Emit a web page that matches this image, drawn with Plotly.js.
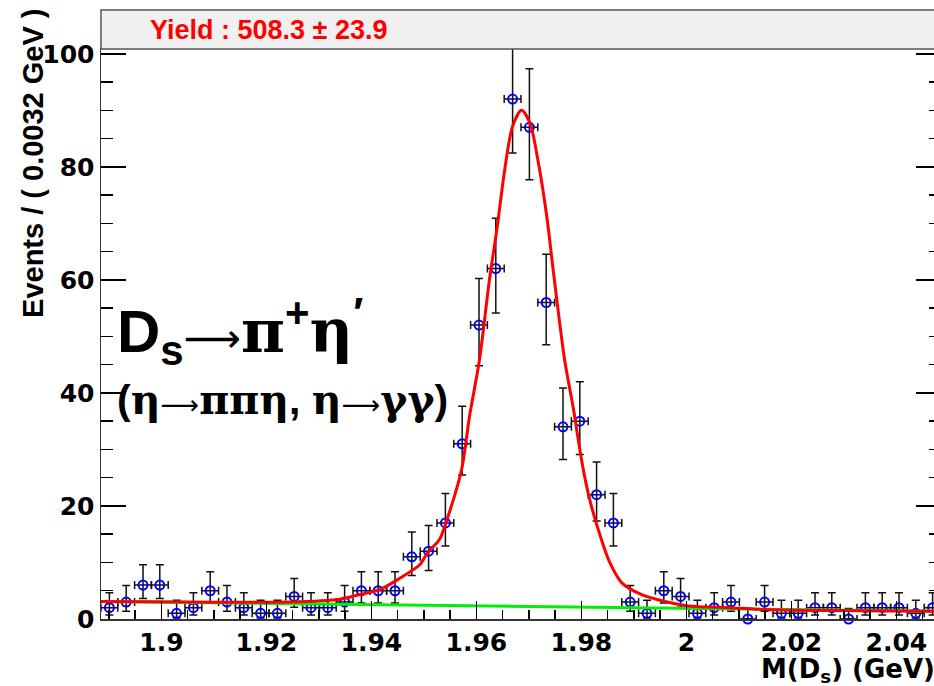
<!DOCTYPE html>
<html>
<head>
<meta charset="utf-8">
<script src="https://cdn.plot.ly/plotly-3.0.1.min.js"></script>
<style>
html,body{margin:0;padding:0;background:#fff;overflow:hidden;}
#wrap{width:934px;height:686px;overflow:hidden;position:relative;}
#plot{width:942px;height:686px;}
</style>
</head>
<body>
<div id="wrap"><div id="plot"></div></div>
<script>
// ---- data ----
const binCenters = [1.8901,1.8933,1.8965,1.8997,1.9029,1.9061,1.9093,1.9125,1.9157,1.9189,
  1.9221,1.9253,1.9285,1.9317,1.9349,1.9381,1.9413,1.9445,1.9477,1.9509,
  1.9541,1.9573,1.9605,1.9637,1.9669,1.9701,1.9733,1.9765,1.9797,1.9829,
  1.9861,1.9893,1.9925,1.9957,1.9989,2.0021,2.0053,2.0085,2.0117,2.0149,
  2.0181,2.0213,2.0245,2.0277,2.0309,2.0341,2.0373,2.0405,2.0437,2.0469];
const counts = [2,3,6,6,1,2,5,3,2,1,
  1,4,2,2,3,5,5,5,11,12,
  17,31,52,62,92,87,56,34,35,22,
  17,3,1,5,4,1,2,3,0,3,
  1,1,2,2,0,2,2,2,1,2];
const errUp = [2.64,2.92,3.58,3.58,2.30,2.64,3.38,2.92,2.64,2.30,
  2.30,3.16,2.64,2.64,2.92,3.38,3.38,3.38,4.38,4.53,
  5.20,6.63,8.26,8.92,10.63,10.37,8.53,6.89,6.97,5.76,
  5.20,2.92,2.30,3.38,3.16,2.30,2.64,2.92,1.84,2.92,
  2.30,2.30,2.64,2.64,1.84,2.64,2.64,2.64,2.30,2.64];
const errDown = [1.29,1.63,2.38,2.38,0.83,1.29,2.16,1.63,1.29,0.83,
  0.83,1.91,1.29,1.29,1.63,2.16,2.16,2.16,3.29,3.44,
  4.08,5.54,7.19,7.86,9.56,9.30,7.46,5.80,5.89,4.65,
  4.08,1.63,0.83,2.16,1.91,0.83,1.29,1.63,0,1.63,
  0.83,0.83,1.29,1.29,0,1.29,1.29,1.29,0.83,1.29];
const binHalfWidth = 0.0016;

// total fit curve
const fitX = [1.8885,1.9054,1.9244,1.9340,1.9372,1.9416,1.9454,1.9492,1.9507,1.9530,
  1.9543,1.9572,1.9587,1.9606,1.9625,1.9639,1.9654,1.9669,1.9686,1.9702,
  1.9717,1.9734,1.9746,1.9768,1.9785,1.9795,1.9806,1.9819,1.9838,1.9854,
  1.9877,1.9915,1.9959,2.0004,2.0081,2.0143,2.0271,2.0485];
const fitY = [3.1,3.0,3.0,3.5,4.2,5.2,7.2,9.6,11.7,14.1,
  17.3,26.5,35.9,45.9,60.1,68.9,79.5,87.2,90.0,87.8,
  81.3,71.3,62.0,45.9,37.1,31.2,25.3,20.0,14.1,10.0,
  6.4,4.3,3.1,2.3,2.0,1.7,1.5,1.35];
// background curve
const bkgX = [1.8885,2.0485];
const bkgY = [3.1,1.35];

const xTickVals = [1.9,1.92,1.94,1.96,1.98,2.0,2.02,2.04];
const xTickText = ['1.9','1.92','1.94','1.96','1.98','2','2.02','2.04'];
const yTickVals = [0,20,40,60,80,100];
const yTickText = ['0','20','40','60','80','100'];

const titleText = 'Yield : 508.3 \u00b1 23.9';
const yTitle = 'Events / ( 0.0032 GeV )';
const xTitle = 'M(D<sub>s</sub>) (GeV)';
const ARROW1 = '<span style="font-family:DejaVu Sans;font-weight:normal;font-size:40px">\u27f6</span>';
const ARROW2 = '<span style="font-family:DejaVu Sans;font-weight:normal;font-size:27px">\u27f6</span>';
const GR = s => '<span style="font-family:DejaVu Serif">' + s + '</span>';
const label1 = '<b>D<sub>s</sub>' + ARROW1 + GR('\u03c0') + '<sup>+</sup>' + GR('\u03b7') + '<sup>\u2032</sup></b>';
const label2 = '<b>(' + GR('\u03b7') + ARROW2 + GR('\u03c0\u03c0\u03b7') + ', ' + GR('\u03b7') + ARROW2 + GR('\u03b3\u03b3') + ')</b>';

// ---- traces ----
const dataTrace = {
  x: binCenters, y: counts, type: 'scatter', mode: 'markers',
  cliponaxis: false,
  marker: {symbol: 'circle-open', size: 9, color: '#0000ff', line: {width: 2, color: '#0000ff'}},
  error_y: {type: 'data', symmetric: false, array: errUp, arrayminus: errDown,
            color: '#111', thickness: 1.5, width: 4},
  error_x: {type: 'constant', value: binHalfWidth, color: '#111', thickness: 1.5, width: 4},
  hoverinfo: 'skip'
};
const bkgTrace = {
  x: bkgX, y: bkgY, type: 'scatter', mode: 'lines',
  line: {color: '#00f000', width: 3}, hoverinfo: 'skip'
};
const fitTrace = {
  x: fitX, y: fitY, type: 'scatter', mode: 'lines',
  line: {color: '#ff0000', width: 3, shape: 'spline', smoothing: 0.8}, hoverinfo: 'skip'
};

const tickFont = {family: 'DejaVu Sans', size: 25, color: '#000', weight: 'bold'};
const sans = 'Liberation Sans, Arial, sans-serif';

const layout = {
  width: 942, height: 686,
  margin: {l: 101, r: 1, t: 49, b: 67},
  paper_bgcolor: '#fff', plot_bgcolor: '#fff',
  showlegend: false,
  xaxis: {
    range: [1.8885, 2.0485], tickmode: 'array', tickvals: xTickVals, ticktext: xTickText,
    ticks: 'inside', ticklen: 18, tickwidth: 1.5, tickcolor: '#000',
    minor: {dtick: 0.005, tick0: 1.9, ticks: 'inside', ticklen: 9, tickwidth: 1.5, tickcolor: '#000', showgrid: false},
    showline: true, linecolor: '#333', linewidth: 1.5, mirror: true,
    showgrid: false, zeroline: false, tickfont: tickFont
  },
  yaxis: {
    range: [0, 100.85], tickmode: 'array', tickvals: yTickVals, ticktext: yTickText,
    ticks: 'inside', ticklen: 25, tickwidth: 1.5, tickcolor: '#000',
    minor: {dtick: 5, tick0: 0, ticks: 'inside', ticklen: 12, tickwidth: 1.5, tickcolor: '#000', showgrid: false},
    showline: true, linecolor: '#333', linewidth: 1.5, mirror: 'ticks',
    showgrid: false, zeroline: false, tickfont: tickFont
  },
  shapes: [{
    type: 'rect', xref: 'paper', yref: 'paper', x0: 0, x1: 1.05, y0: 1.0, y1: 1.0684,
    fillcolor: '#f0f0f0', line: {color: '#555', width: 1.5}, layer: 'above'
  }],
  annotations: [
    {text: '<b>' + titleText + '</b>', xref: 'paper', yref: 'paper', x: 0.0554, y: 1.0342,
     xanchor: 'left', yanchor: 'middle', showarrow: false,
     font: {family: sans, size: 27, color: '#ff0000'}},
    {text: '<b>' + yTitle + '</b>', xref: 'paper', yref: 'paper', x: -0.081, y: 0.80,
     xanchor: 'center', yanchor: 'middle', textangle: -90, showarrow: false,
     font: {family: sans, size: 29, color: '#000'}},
    {text: '<b>' + xTitle + '</b>', xref: 'paper', yref: 'paper', x: 0.9952, y: -0.091,
     xanchor: 'right', yanchor: 'middle', showarrow: false,
     font: {family: 'DejaVu Sans', size: 26, color: '#000'}},
    {text: label1, xref: 'paper', yref: 'paper', x: 0.0167, y: 0.505,
     xanchor: 'left', yanchor: 'middle', showarrow: false,
     font: {family: sans, size: 60, color: '#000'}},
    {text: label2, xref: 'paper', yref: 'paper', x: 0.0167, y: 0.384,
     xanchor: 'left', yanchor: 'middle', showarrow: false,
     font: {family: sans, size: 41, color: '#000'}}
  ]
};

Plotly.newPlot('plot', [dataTrace, bkgTrace, fitTrace], layout, {displayModeBar: false, staticPlot: true});
</script>
</body>
</html>
